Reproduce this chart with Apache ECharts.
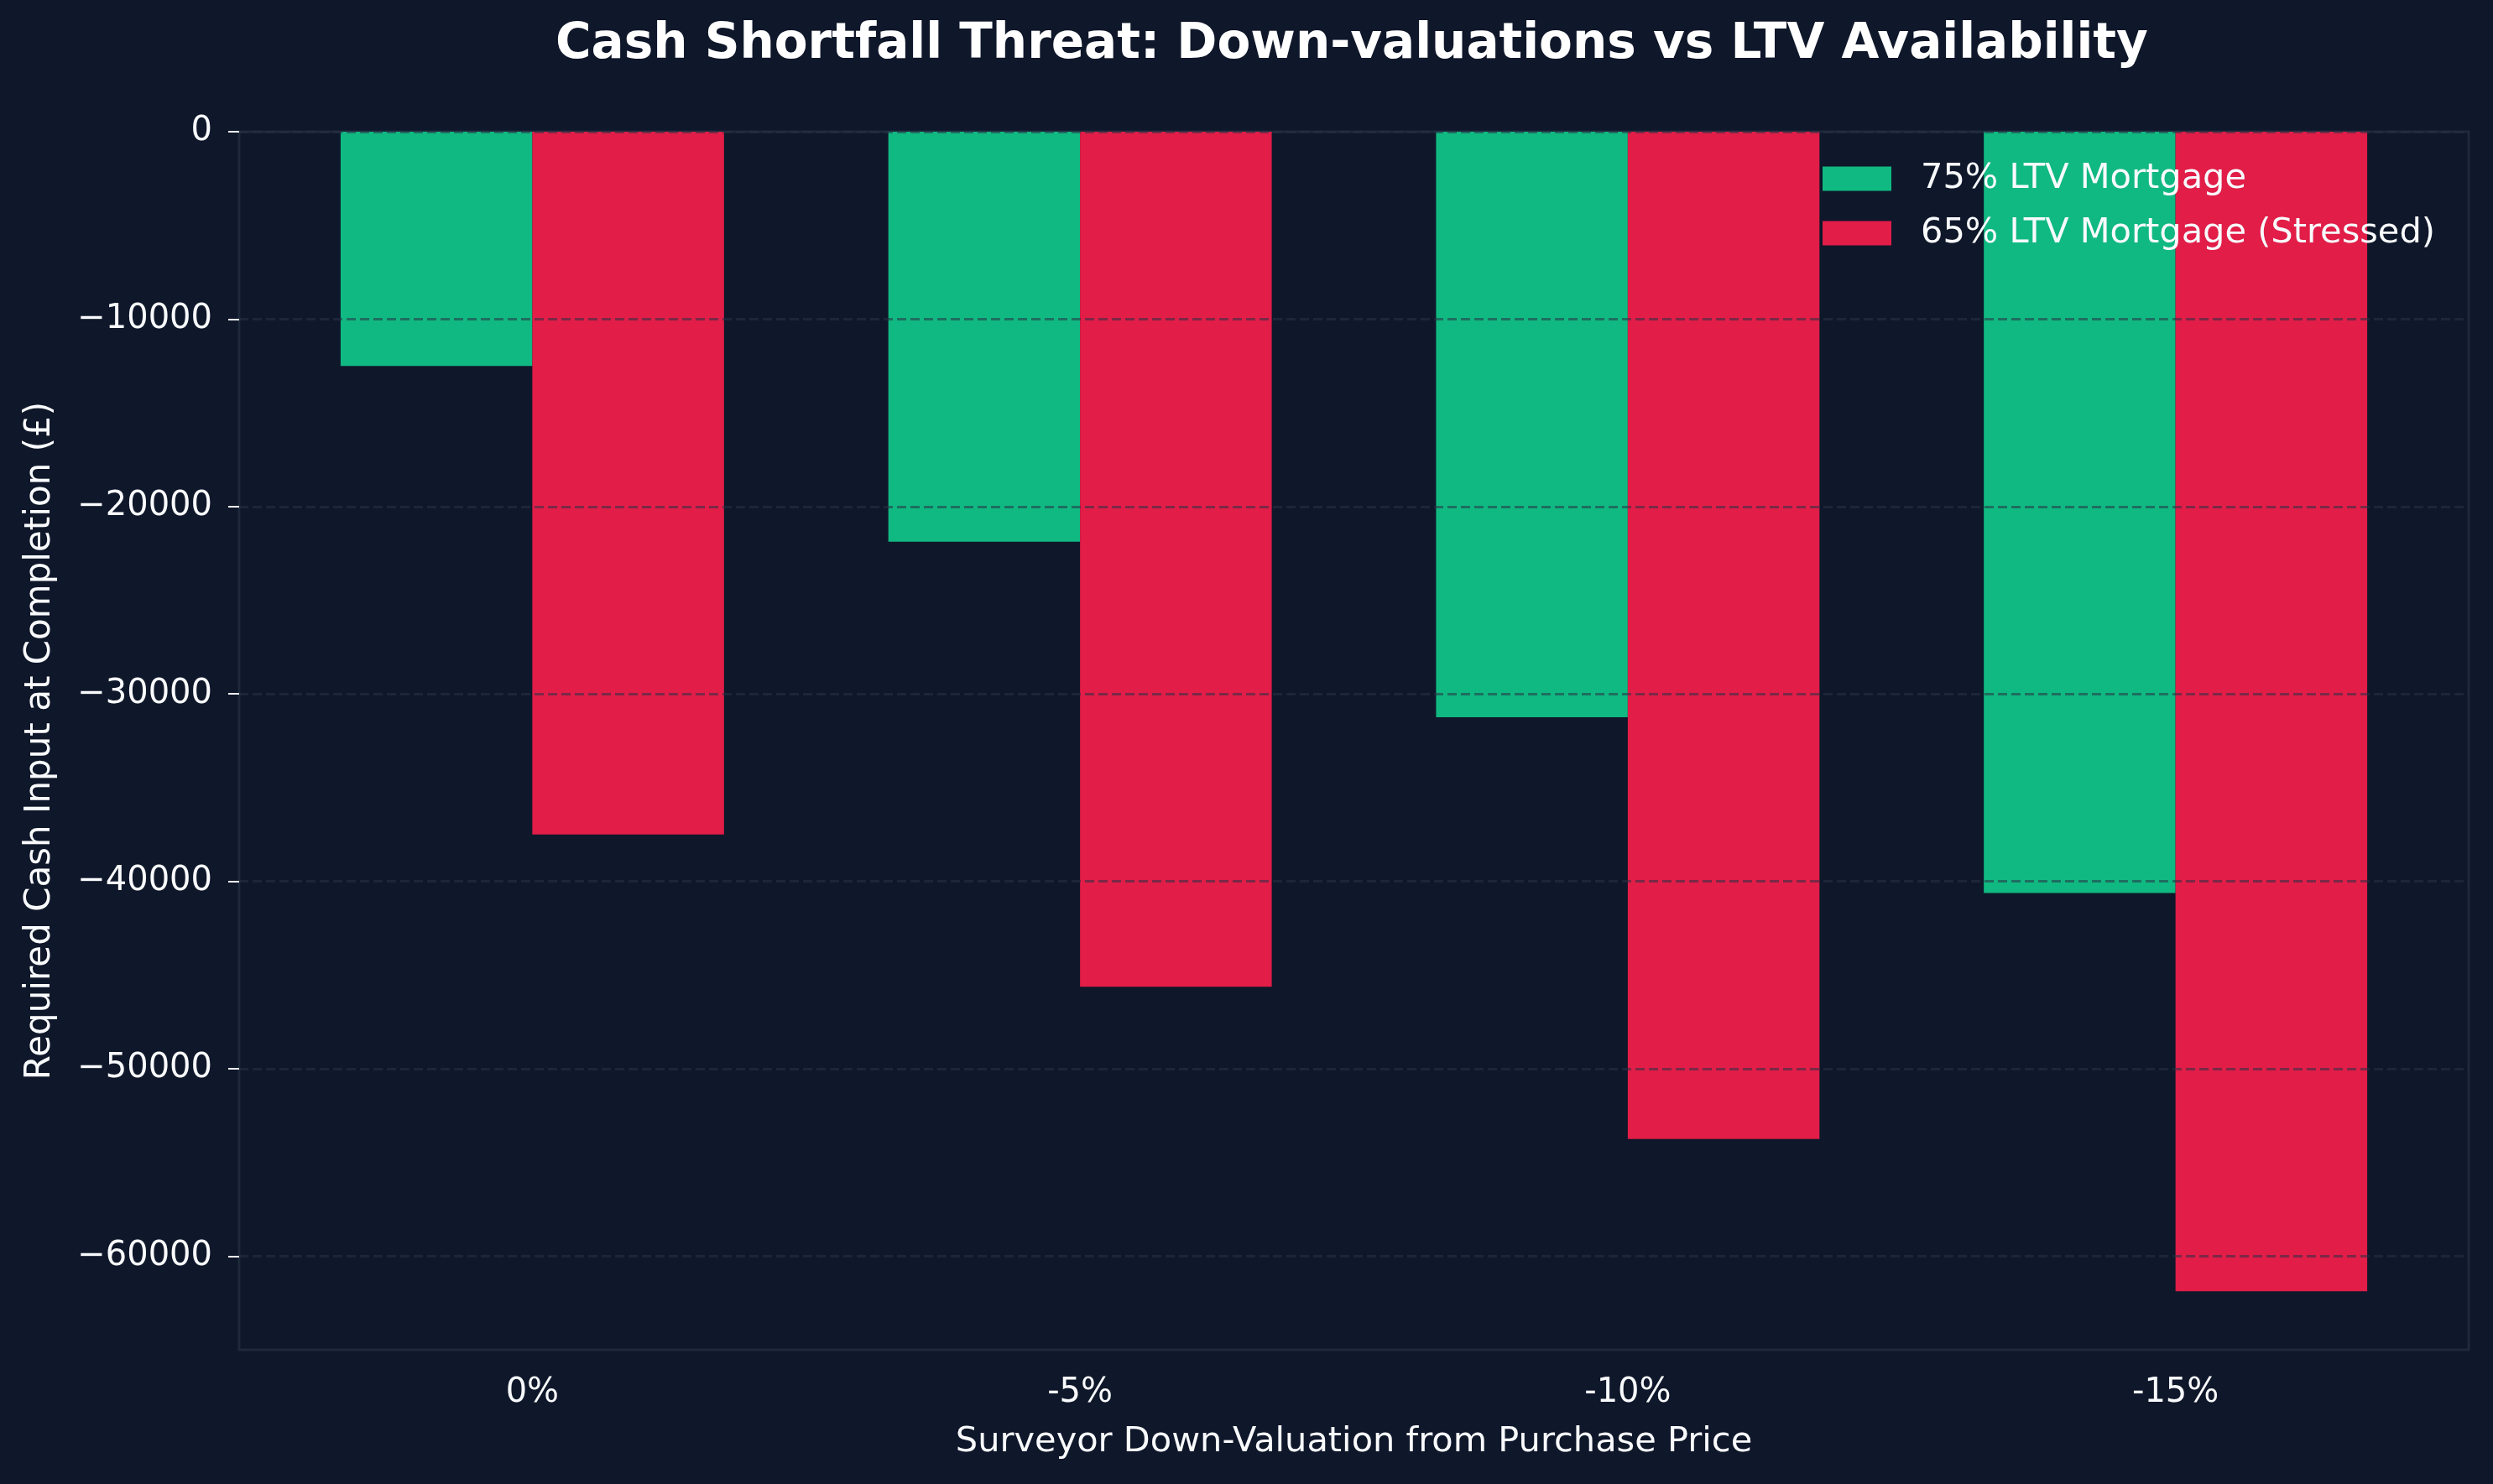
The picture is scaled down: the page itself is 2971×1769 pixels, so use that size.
<!DOCTYPE html>
<html style="height: 100%">

<head>
    <meta charset="utf-8">
    <title>Cash Shortfall Threat</title>
</head>

<body style="height: 100%; margin: 0; background: #0f172a">
    <div id="container" style="width: 2971px; height: 1769px"></div>
    <script src="https://cdn.jsdelivr.net/npm/echarts@6/dist/echarts.min.js"></script>
    <script type="text/javascript">
        // data
        var categories = ['0%', '-5%', '-10%', '-15%'];
        var ltv75 = [-12500, -21875, -31250, -40625];
        var ltv65 = [-37500, -45625, -53750, -61875];
        var yTicks = [-60000, -50000, -40000, -30000, -20000, -10000, 0];
        var seriesNames = ['75% LTV Mortgage', '65% LTV Mortgage (Stressed)'];

        var font = 'DejaVu Sans';
        var textColor = '#f8fafc';

        var myChart = echarts.init(document.getElementById('container'));

        var option = {
            backgroundColor: '#0f172a',
            animation: false,
            title: {
                text: 'Cash Shortfall Threat: Down-valuations vs LTV Availability',
                left: 662,
                top: 25,
                padding: 0,
                textStyle: {
                    color: '#ffffff',
                    fontSize: 58,
                    fontWeight: 'bold',
                    fontFamily: font,
                    lineHeight: 58
                }
            },
            legend: {
                data: seriesNames,
                orient: 'vertical',
                left: 2172,
                top: 192,
                padding: 0,
                icon: 'rect',
                itemWidth: 82,
                itemHeight: 29,
                itemGap: 23,
                textStyle: {
                    color: textColor,
                    fontSize: 41.5,
                    lineHeight: 41,
                    fontFamily: font,
                    padding: [0, 0, 0, 30]
                }
            },
            // grid 0 = the frame and y axis, grid 1 = the bars (matplotlib-like margins)
            grid: [{
                left: 285,
                right: 29,
                top: 157,
                bottom: 160,
                show: true,
                backgroundColor: 'transparent',
                borderColor: '#1e293b',
                borderWidth: 3
            }, {
                left: 308,
                right: 52,
                top: 157,
                bottom: 160
            }],
            xAxis: [{
                gridIndex: 0,
                type: 'value',
                min: 0,
                max: 1,
                show: false
            }, {
                gridIndex: 1,
                type: 'category',
                data: categories,
                name: 'Surveyor Down-Valuation from Purchase Price',
                nameLocation: 'middle',
                nameGap: 89,
                nameTextStyle: {
                    color: textColor,
                    fontSize: 41.5,
                    lineHeight: 42,
                    fontFamily: font
                },
                axisLine: { show: false },
                axisTick: {
                    alignWithLabel: true,
                    length: 13,
                    lineStyle: { color: textColor, width: 2 }
                },
                axisLabel: {
                    color: textColor,
                    fontSize: 40,
                    lineHeight: 40,
                    fontFamily: font,
                    margin: 32
                },
                splitLine: { show: false }
            }],
            yAxis: [{
                gridIndex: 0,
                type: 'value',
                min: -65000,
                max: 0,
                z: 3,
                name: 'Required Cash Input at Completion (£)',
                nameLocation: 'middle',
                nameRotate: 90,
                nameGap: 216,
                nameTextStyle: {
                    color: textColor,
                    fontSize: 42,
                    lineHeight: 42,
                    fontFamily: font
                },
                axisLine: { show: false },
                axisTick: {
                    show: true,
                    length: 13,
                    customValues: yTicks,
                    lineStyle: { color: textColor, width: 2 }
                },
                axisLabel: {
                    color: textColor,
                    fontSize: 40,
                    fontFamily: font,
                    margin: 32,
                    showMinLabel: true,
                    showMaxLabel: true,
                    customValues: yTicks,
                    formatter: function (v) {
                        return v < 0 ? '\u2212' + Math.abs(v) : String(v);
                    }
                },
                splitLine: {
                    show: true,
                    lineStyle: {
                        color: 'rgba(40,50,70,0.55)',
                        width: 3,
                        type: [11, 5]
                    }
                }
            }, {
                gridIndex: 1,
                type: 'value',
                min: -65000,
                max: 0,
                show: false,
                splitLine: { show: false }
            }],
            series: [{
                name: seriesNames[0],
                type: 'bar',
                xAxisIndex: 1,
                yAxisIndex: 1,
                data: ltv75,
                barWidth: '35%',
                barGap: '0%',
                itemStyle: { color: '#10b981' }
            }, {
                name: seriesNames[1],
                type: 'bar',
                xAxisIndex: 1,
                yAxisIndex: 1,
                data: ltv65,
                barWidth: '35%',
                barGap: '0%',
                itemStyle: { color: '#e11d48' }
            }]
        };
        myChart.setOption(option);
    </script>
</body>

</html>
